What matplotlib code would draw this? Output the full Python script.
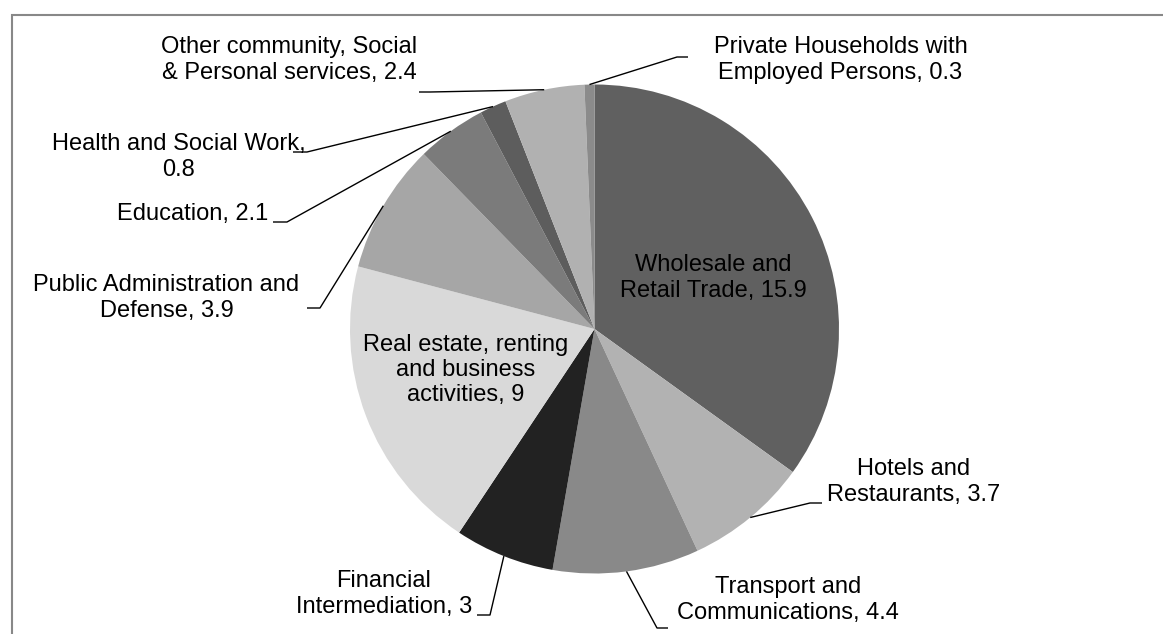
import matplotlib
matplotlib.use("Agg")
import matplotlib.pyplot as plt
from matplotlib.patches import Rectangle
import numpy as np

plt.rcParams['font.family'] = ['Liberation Sans', 'DejaVu Sans']

# ---- data ----
categories = [
    "Wholesale and\nRetail Trade",
    "Hotels and\nRestaurants",
    "Transport and\nCommunications",
    "Financial\nIntermediation",
    "Real estate, renting\nand business\nactivities",
    "Public Administration and\nDefense",
    "Education",
    "Health and Social Work,\n",
    "Other community, Social\n& Personal services",
    "Private Households with\nEmployed Persons",
]
values = [15.9, 3.7, 4.4, 3, 9, 3.9, 2.1, 0.8, 2.4, 0.3]
value_labels = ["15.9", "3.7", "4.4", "3", "9", "3.9", "2.1", "0.8", "2.4", "0.3"]
colors = ["#606060", "#b2b2b2", "#898989", "#222222", "#d9d9d9",
          "#a6a6a6", "#7b7b7b", "#5d5d5d", "#b1b1b1", "#8b8b8b"]

W, H = 1163, 634
fig = plt.figure(figsize=(W / 100, H / 100), dpi=100)
ax = fig.add_axes([0, 0, 1, 1])

cx, cy, R = 594.5, 329.0, 244.5  # pixel layout (y from top)

def Y(y):
    return H - y

wedges, _ = ax.pie(values, colors=colors, startangle=90, counterclock=False,
                   center=(cx, Y(cy)), radius=R, frame=True,
                   wedgeprops=dict(linewidth=0))
ax.set_xlim(0, W)
ax.set_ylim(0, H)
ax.set_aspect('auto')
ax.axis('off')

# border frame
ax.add_patch(Rectangle((12, -20), W + 20, Y(15) + 20, fill=False,
                       edgecolor="#888888", linewidth=1.5, zorder=0))

# label layout: (text center x, text center y, elbow, end) in pixels (y from top)
layout = {
    0: dict(pos=(713, 278), leader=None),
    1: dict(pos=(914, 482), leader=[(810, 503), (822, 503)]),
    2: dict(pos=(788, 600), leader=[(657, 628), (668, 628)]),
    3: dict(pos=(384, 594), leader=[(490, 615), (477, 615)]),
    4: dict(pos=(466, 370), leader=None),
    5: dict(pos=(166.5, 298), leader=[(320, 308), (307, 308)]),
    6: dict(pos=(192.5, 214), leader=[(287, 222), (273, 222)]),
    7: dict(pos=(178.5, 157), leader=[(307, 152), (293, 152)]),
    8: dict(pos=(289, 60), leader=[(430, 92), (419, 92)]),
    9: dict(pos=(840.5, 60), leader=[(677, 57), (688, 57)]),
}

fs = 17
for i, w in enumerate(wedges):
    name = categories[i]
    if name.endswith("\n"):
        text = name + value_labels[i]
    else:
        text = name + ", " + value_labels[i]
    lay = layout[i]
    tx, ty = lay["pos"]
    ax.text(tx, Y(ty), text, ha="center", va="center", fontsize=fs,
            color="black", multialignment="center", linespacing=1.18)
    if lay["leader"] is not None:
        mid = np.deg2rad((w.theta1 + w.theta2) / 2)
        ex = cx + R * np.cos(mid)
        ey = Y(cy) + R * np.sin(mid)
        xs = [ex] + [p[0] for p in lay["leader"]]
        ys = [ey] + [Y(p[1]) for p in lay["leader"]]
        ax.plot(xs, ys, color="black", linewidth=1.0, solid_capstyle="butt")

fig.savefig("out.png", dpi=100)
